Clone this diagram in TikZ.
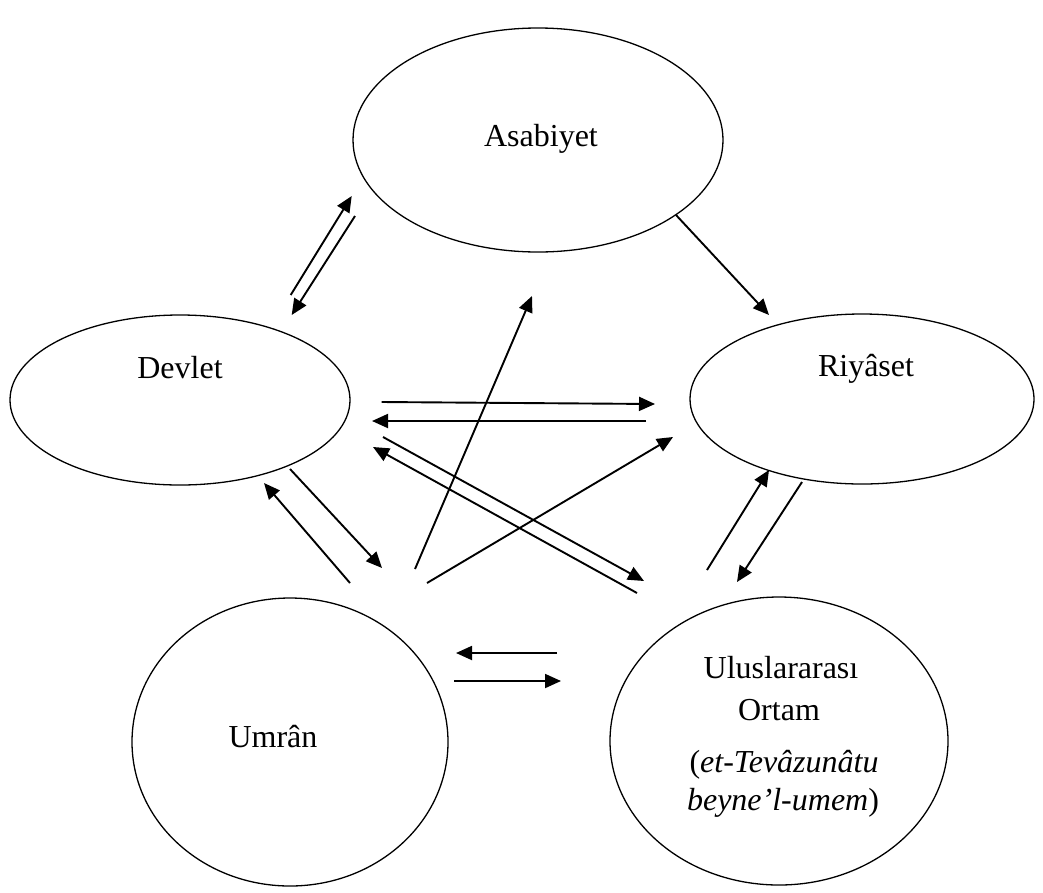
\documentclass[tikz,border=0pt]{standalone}
\usepackage{fontspec}
\setmainfont{Liberation Serif}
\usetikzlibrary{shapes.geometric,arrows.meta}
\begin{document}
\begin{tikzpicture}[x=1pt,y=-1pt,
  blob/.style={draw,ellipse,line width=1.3pt,inner sep=0pt},
  lbl/.style={anchor=base,inner sep=0pt,font=\fontsize{32}{38}\selectfont},
  arr/.style={line width=1.9pt,-{Triangle[length=16pt,width=14pt]}}]
\useasboundingbox (0,0) rectangle (1043,892);
% ellipses
\node[blob,minimum width=370pt,minimum height=224pt] (asab) at (538,140) {};
\node[blob,minimum width=340pt,minimum height=170pt] (devlet) at (180,400) {};
\node[blob,minimum width=344pt,minimum height=170pt] (riyaset) at (862,399) {};
\node[blob,minimum width=316pt,minimum height=288pt] (umran) at (290,742) {};
\node[blob,minimum width=338pt,minimum height=288pt] (ulus) at (779,741) {};
% labels
\node[lbl] (tasab) at (541,146) {Asabiyet};
\node[lbl] (tdevlet) at (180,378) {Devlet};
\node[lbl] (triyaset) at (866,376) {Riyâset};
\node[lbl] (tumran) at (273,747) {Umrân};
\node[lbl] (tulus1) at (781,678) {Uluslararası};
\node[lbl] (tulus2) at (779,720) {Ortam};
\node[lbl] (tulus3) at (784,772) {(\textit{et-Tevâzunâtu}};
\node[lbl] (tulus4) at (783,810) {\textit{beyne’l-umem})};
% arrow end points
\coordinate (a1s) at (290.7,295); \coordinate (a1e) at (351.7,196);
\coordinate (a2s) at (355,216);   \coordinate (a2e) at (291.7,315);
\coordinate (a3s) at (676,215);   \coordinate (a3e) at (769,315);
\coordinate (a4s) at (381.7,402); \coordinate (a4e) at (655,404);
\coordinate (a5s) at (646,421);   \coordinate (a5e) at (372,421);
\coordinate (a6s) at (350,583);   \coordinate (a6e) at (264,483);
\coordinate (a7s) at (290,469);   \coordinate (a7e) at (382,568);
\coordinate (a8s) at (637,593);   \coordinate (a8e) at (373,447);
\coordinate (a9s) at (383,437);   \coordinate (a9e) at (644,581);
\coordinate (a10s) at (415,569);  \coordinate (a10e) at (532,296);
\coordinate (a11s) at (427,583);  \coordinate (a11e) at (673,437);
\coordinate (a12s) at (707,570);  \coordinate (a12e) at (769,470);
\coordinate (a13s) at (802,482);  \coordinate (a13e) at (737,582);
\coordinate (a14s) at (557,653);  \coordinate (a14e) at (456,653);
\coordinate (a15s) at (454,681);  \coordinate (a15e) at (561,681);
\foreach \i in {1,...,15} {\draw[arr] (a\i s) -- (a\i e);}
\end{tikzpicture}
\end{document}
